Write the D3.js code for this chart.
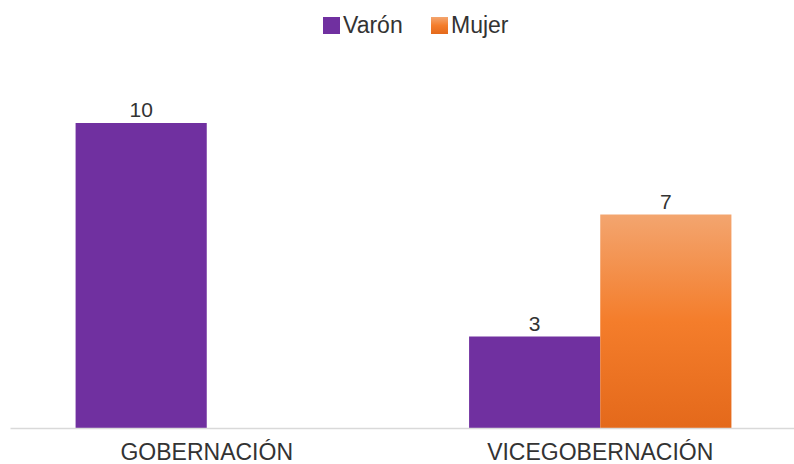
<!DOCTYPE html>
<html>
<head>
<meta charset="utf-8">
<script src="https://cdn.jsdelivr.net/npm/d3@7"></script>
<style>
  body { margin: 0; background: #fff; }
  text { font-family: "Liberation Sans", Arial, sans-serif; fill: #333; }
</style>
</head>
<body>
<div id="chart"></div>
<script>
// data
var categories = ["GOBERNACIÓN", "VICEGOBERNACIÓN"];
var seriesNames = ["Varón", "Mujer"];
var varon = [10, 3];
var mujer = [0, 7];

var width = 794, height = 464;
var baseY = 428;

var svg = d3.select("#chart")
  .append("svg")
    .attr("width", width)
    .attr("height", height);

// orange gradient for Mujer
var grad = svg.append("defs").append("linearGradient")
    .attr("id", "gradMujer")
    .attr("x1", 0).attr("y1", 0).attr("x2", 0).attr("y2", 1);
grad.append("stop").attr("offset", "0%").attr("stop-color", "#f3a56f");
grad.append("stop").attr("offset", "50%").attr("stop-color", "#f47d2b");
grad.append("stop").attr("offset", "100%").attr("stop-color", "#e4691b");

var colors = { "Varón": "#7030a0", "Mujer": "url(#gradMujer)" };

// scales
var x0 = d3.scaleBand()
  .domain(categories)
  .range([10, 797]);

var x1 = d3.scaleBand()
  .domain(seriesNames)
  .range([0, x0.bandwidth()])
  .paddingOuter(0.5);

var y = d3.scaleLinear()
  .domain([0, 10])
  .range([baseY, 123]);

var rows = [];
categories.forEach(function (c, i) {
  rows.push({ cat: c, s: "Varón", v: varon[i] });
  rows.push({ cat: c, s: "Mujer", v: mujer[i] });
});
rows = rows.filter(function (d) { return d.v > 0; });

// bars
svg.append("g")
  .selectAll("rect")
  .data(rows)
  .enter()
  .append("rect")
    .attr("x", function (d) { return x0(d.cat) + x1(d.s); })
    .attr("y", function (d) { return y(d.v); })
    .attr("width", x1.bandwidth())
    .attr("height", function (d) { return baseY - y(d.v); })
    .style("fill", function (d) { return colors[d.s]; });

// value labels
svg.append("g")
  .selectAll("text")
  .data(rows)
  .enter()
  .append("text")
    .attr("x", function (d) { return x0(d.cat) + x1(d.s) + x1.bandwidth() / 2; })
    .attr("y", function (d) { return y(d.v) - 6; })
    .attr("text-anchor", "middle")
    .style("font-size", "21px")
    .text(function (d) { return d.v; });

// x axis
var xAxis = svg.append("g")
  .attr("transform", "translate(0," + baseY + ")")
  .call(d3.axisBottom(x0).tickSize(0).tickPadding(16));
xAxis.select(".domain").attr("stroke", "#d9d9d9").attr("stroke-width", 1.5);
xAxis.selectAll("text")
  .style("font-size", "23px")
  .style("font-family", "'Liberation Sans', Arial, sans-serif")
  .attr("fill", "#333");

// legend
var legendX = [323, 431];
var legend = svg.append("g")
  .selectAll("g")
  .data(seriesNames)
  .enter()
  .append("g")
    .attr("transform", function (d, i) { return "translate(" + legendX[i] + ",17)"; });
legend.append("rect")
  .attr("width", 17)
  .attr("height", 17)
  .style("fill", function (d) { return colors[d]; });
legend.append("text")
  .attr("x", 20)
  .attr("y", 16)
  .style("font-size", "23px")
  .text(function (d) { return d; });
</script>
</body>
</html>
